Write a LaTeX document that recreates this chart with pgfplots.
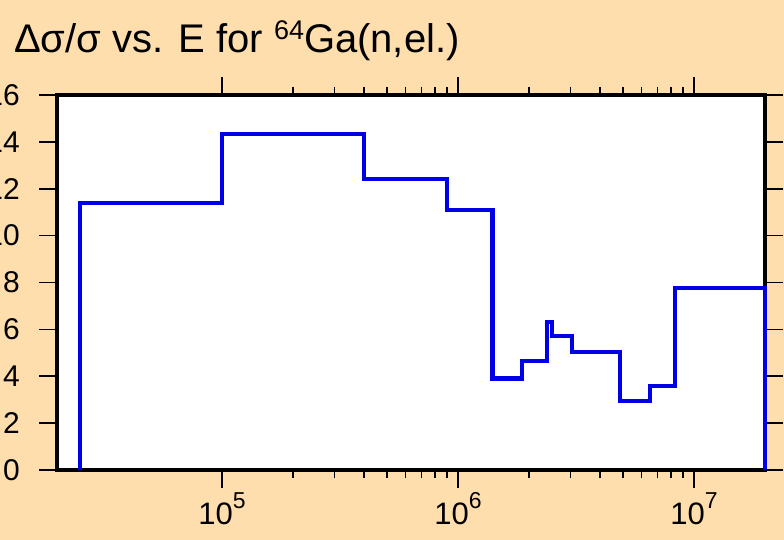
\documentclass[border=0pt]{standalone}
\usepackage{fontspec}
\setmainfont{Liberation Sans}
\usepackage{pgfplots}
\pgfplotsset{compat=1.18}
\definecolor{bgtan}{RGB}{255,222,173}
\definecolor{stepblue}{RGB}{0,0,230}
\begin{document}
\begin{tikzpicture}
\useasboundingbox (0,0) rectangle (784bp,540bp);
\fill[bgtan] (0,0) rectangle (784bp,540bp);
\begin{axis}[
    at={(57bp,70bp)}, anchor=south west,
    scale only axis, width=708bp, height=375bp,
    xmode=log, xmin=2e4, xmax=2e7,
    ymin=0, ymax=16, ytick={0,2,...,16}, minor y tick num=0,
    xtick={1e5,1e6,1e7},
    xticklabels={10\raisebox{16bp}{\fontsize{23bp}{23bp}\selectfont 5},
                 10\raisebox{16bp}{\fontsize{23bp}{23bp}\selectfont 6},
                 10\raisebox{16bp}{\fontsize{23bp}{23bp}\selectfont 7}},
    tick align=outside,
    major tick length=18bp, minor tick length=8bp,
    every tick/.style={black, line width=1.6bp},
    axis line style={line width=3.5bp},
    axis background/.style={fill=white},
    /pgf/number format/assume math mode=true,
    yticklabel style={font=\fontsize{30bp}{30bp}\selectfont, inner sep=0pt},
    xticklabel style={font=\fontsize{31bp}{31bp}\selectfont, inner sep=0pt},
    y tick label style={xshift=-19bp},
    x tick label style={yshift=-4bp},
    clip=false,
]
\addplot[stepblue, line width=4.2bp, const plot mark left] coordinates {
    (2.5e4,0) (2.5e4,11.4) (1e5,14.35) (4.0e5,12.4) (9.0e5,11.1)
    (1.4e6,3.9) (1.87e6,4.65) (2.38e6,6.3) (2.5e6,5.72) (3.03e6,5.05)
    (4.85e6,2.95) (6.5e6,3.58) (8.3e6,7.75) (2e7,7.75) (2e7,0)
};
\end{axis}
\node[anchor=base west, inner sep=0pt, font=\fontsize{40bp}{44bp}\selectfont]
    at (14bp,487bp) {Δσ/σ vs. E for \raisebox{13bp}{\fontsize{27bp}{27bp}\selectfont 64}Ga(n,el.)};
\end{tikzpicture}
\end{document}
